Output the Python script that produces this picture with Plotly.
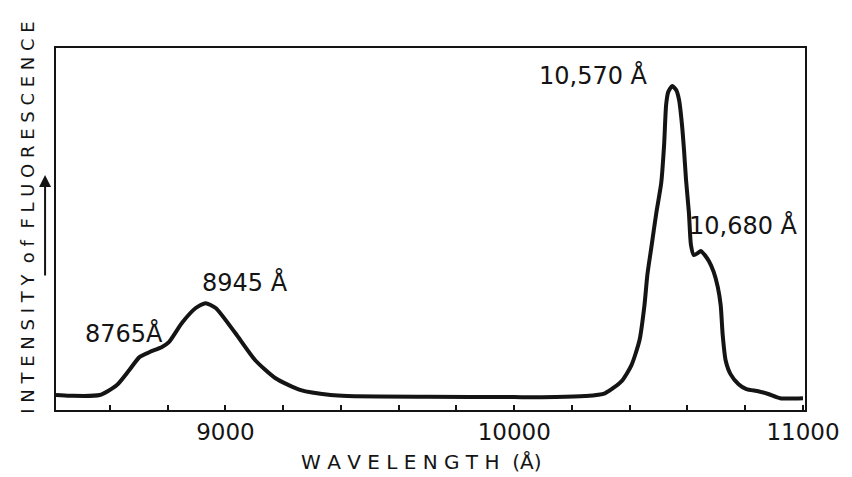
import plotly.graph_objects as go

# Wavelength (Å) and relative fluorescence intensity
wavelength = [8413, 8461, 8564, 8623, 8667, 8702, 8736, 8780, 8804, 8849, 8897, 8931,
              8966, 9034, 9103, 9172, 9261, 9364, 9422, 9700, 10000, 10142, 10245,
              10314, 10372, 10406, 10434, 10451, 10461, 10475, 10492, 10509, 10519,
              10526, 10533, 10547, 10561, 10571, 10581, 10588, 10595, 10605, 10612,
              10622, 10636, 10646, 10660, 10674, 10691, 10705, 10715, 10722, 10732,
              10749, 10777, 10804, 10845, 10880, 10921, 11000]
intensity = [0.6, 0.4, 0.6, 3.4, 7.8, 11.5, 12.9, 14.4, 15.8, 21.3, 25.6, 27.0,
             25.6, 18.4, 10.6, 5.5, 2.0, 0.6, 0.3, 0.1, 0.0, 0.0, 0.3,
             1.1, 4.6, 9.2, 16.4, 26.4, 35.1, 43.1, 52.9, 61.5, 72.4,
             83.9, 87.6, 89.4, 88.2, 85.3, 78.2, 71.0, 62.4, 52.9, 43.7,
             40.8, 41.4, 42.0, 40.8, 39.1, 35.9, 31.6, 26.4, 17.8, 10.6,
             6.6, 3.7, 2.3, 1.7, 0.9, -0.3, -0.3]

tick_vals = list(range(8600, 11001, 200))
tick_text = [str(v) if v % 1000 == 0 else "" for v in tick_vals]

peak_labels = ["8765Å", "8945 Å", "10,570 Å", "10,680 Å"]
peak_label_x = [8650, 9069, 10273, 10794]
peak_label_y = [18.4, 32.8, 92.5, 49.4]

FONT = "DejaVu Sans"
INK = "#141414"

fig = go.Figure()
fig.add_trace(go.Scatter(
    x=wavelength, y=intensity, mode="lines",
    line=dict(color=INK, width=4, shape="spline", smoothing=0.6),
    hoverinfo="skip", showlegend=False,
))

for t, x, y in zip(peak_labels, peak_label_x, peak_label_y):
    fig.add_annotation(x=x, y=y, xref="x", yref="y", text=t, showarrow=False,
                       xanchor="center", yanchor="middle",
                       font=dict(family=FONT, size=24, color=INK))

# axis titles
fig.add_annotation(x=0.488, y=-0.144, xref="paper", yref="paper",
                   text="W A V E L E N G T H  (Å)", showarrow=False,
                   xanchor="center", yanchor="middle",
                   font=dict(family=FONT, size=20, color=INK))
fig.add_annotation(x=-0.038, y=0.53, xref="paper", yref="paper",
                   text="I N T E N S I T Y  o f  F L U O R E S C E N C E",
                   textangle=-90, showarrow=False,
                   xanchor="center", yanchor="middle",
                   font=dict(family=FONT, size=18, color=INK))
# upward arrow beside the y label
fig.add_annotation(x=-0.0146, y=0.649, xref="paper", yref="paper", text="",
                   showarrow=True, ax=0, ay=102, arrowhead=2, arrowsize=1.2,
                   arrowwidth=2, arrowcolor=INK)

fig.update_layout(
    width=852, height=477,
    margin=dict(l=56, r=40, t=48, b=67),
    paper_bgcolor="white", plot_bgcolor="white",
    font=dict(family=FONT, color=INK),
    xaxis=dict(range=[8413, 11007], showgrid=False, zeroline=False,
               showline=True, linecolor=INK, linewidth=2, mirror=True,
               tickmode="array", tickvals=tick_vals, ticktext=tick_text,
               ticks="inside", ticklen=5, tickwidth=2, tickcolor=INK,
               tickfont=dict(family=FONT, size=23, color=INK)),
    yaxis=dict(range=[-3.7, 100.3], showgrid=False, zeroline=False,
               showline=True, linecolor=INK, linewidth=2, mirror=True,
               showticklabels=False, ticks=""),
)

fig.write_html("out.html")
